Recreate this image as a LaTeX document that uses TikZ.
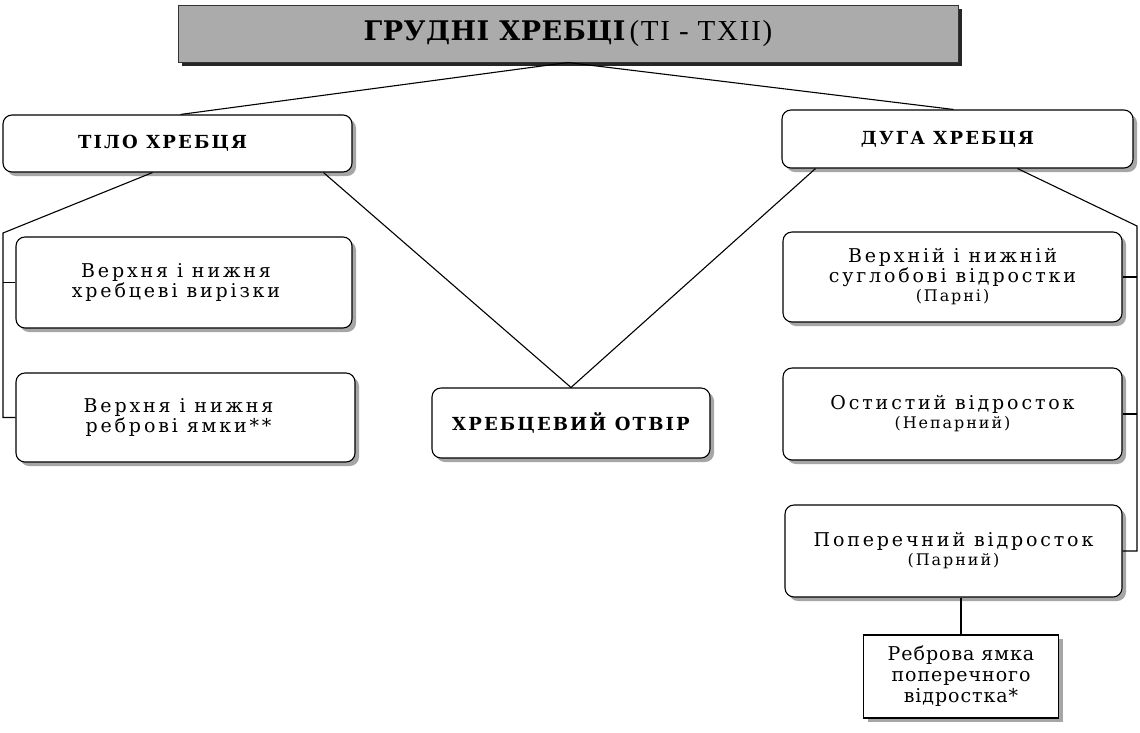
\documentclass[tikz,border=0pt]{standalone}
\usepackage{fontspec}
\setmainfont{DejaVu Serif}
\newfontfamily\bodyf[LetterSpace=15]{DejaVu Serif}
\newfontfamily\smallf[LetterSpace=12]{DejaVu Serif}
\newfontfamily\rebf[LetterSpace=5]{DejaVu Serif}
\newfontfamily\headf[LetterSpace=12]{DejaVu Serif}
\newfontfamily\titlef[LetterSpace=2]{DejaVu Serif}
\newfontfamily\timesf[LetterSpace=6]{Liberation Serif}
\usetikzlibrary{shadows,calc}
\newcommand{\bodytxt}{\bodyf\fontsize{19}{20}\selectfont}
\newcommand{\smalltxt}{\smallf\fontsize{16}{20}\selectfont}
\newcommand{\headtxt}{\headf\bfseries\fontsize{18}{20}\selectfont}
\newcommand{\rebtxt}{\rebf\fontsize{19}{21}\selectfont}
\begin{document}
\begin{tikzpicture}[x=1pt,y=-1pt,
  box/.style={draw, line width=1.1pt, rounded corners=9pt, fill=white,
    drop shadow={shadow xshift=4pt, shadow yshift=-4pt, fill=black!35, opacity=1},
    align=center, inner sep=0pt},
  sqbox/.style={draw, line width=1.1pt, fill=white,
    drop shadow={shadow xshift=4pt, shadow yshift=-4pt, fill=black!35, opacity=1},
    align=center, inner sep=0pt},
  titlebox/.style={draw=black!80, line width=1pt, fill=black!33,
    drop shadow={shadow xshift=4pt, shadow yshift=-4pt, fill=black!85, opacity=1},
    inner sep=0pt},
  conn/.style={line width=1.1pt}]
\useasboundingbox (0,0) rectangle (1140,732);
\fill[white] (0,0) rectangle (1140,732);

\node[titlebox, minimum width=780pt, minimum height=57pt] (title) at (568,33.5)
  {{\titlef\bfseries\fontsize{27}{30}\selectfont ГРУДНІ ХРЕБЦІ}\hspace{4pt}{\timesf\fontsize{29}{30}\selectfont (TI - TXII)}};

\node[box, minimum width=349pt, minimum height=57pt, font=\headtxt] (tilo) at (177.5,143.5) {ТІЛО ХРЕБЦЯ\hspace*{30pt}};
\node[box, minimum width=351pt, minimum height=58pt, font=\headtxt] (duga) at (957.5,139) {ДУГА ХРЕБЦЯ\hspace*{20pt}};

\node[box, minimum width=336pt, minimum height=91pt, font=\bodytxt] (vyr) at (184,282.5)
  {Верхня і нижня\hspace*{16pt}\\ хребцеві вирізки\hspace*{16pt}};
\node[box, minimum width=339pt, minimum height=89pt, font=\bodytxt] (yam) at (185.5,417.5)
  {Верхня і нижня\hspace*{14pt}\\ реброві ямки**\hspace*{14pt}};
\node[box, minimum width=278pt, minimum height=70pt, font=\headtxt] (otv) at (571,423)
  {ХРЕБЦЕВИЙ ОТВІР};

\node[box, minimum width=339pt, minimum height=90pt, font=\bodytxt] (sug) at (952.5,277)
  {Верхній і нижній\\ суглобові відростки\\[-1pt] {\smalltxt (Парні)}};
\node[box, minimum width=339pt, minimum height=92pt, font=\bodytxt] (ost) at (952.5,414)
  {Остистий відросток\\[-1pt] {\smalltxt (Непарний)}};
\node[box, minimum width=337pt, minimum height=92pt, font=\bodytxt] (pop) at (953.5,551)
  {Поперечний відросток\\[-1pt] {\smalltxt (Парний)}};
\node[sqbox, minimum width=195pt, minimum height=83pt, font=\rebtxt] (reb) at (961,676.5)
  {Реброва ямка\\ поперечного\\ відростка*};

\coordinate (lb) at (3,233);
\coordinate (rb) at (1137,226);

\draw[conn] (title.south) -- ([xshift=3pt]tilo.north);
\draw[conn] (title.south) -- ([xshift=-4pt]duga.north);

\draw[conn] ([xshift=-25pt]tilo.south) -- (lb) -- (lb |- yam.west) -- (yam.west);
\draw[conn] (lb |- vyr.west) -- (vyr.west);

\draw[conn] ([xshift=146pt]tilo.south) -- (otv.north);
\draw[conn] ([xshift=-142pt]duga.south) -- (otv.north);

\draw[conn] ([xshift=60pt]duga.south) -- (rb) -- (rb |- pop.east) -- (pop.east);
\draw[conn] (rb |- sug.east) -- (sug.east);
\draw[conn] (rb |- ost.east) -- (ost.east);

\draw[conn] (reb.north) -- (reb.north |- pop.south);
\end{tikzpicture}
\end{document}
